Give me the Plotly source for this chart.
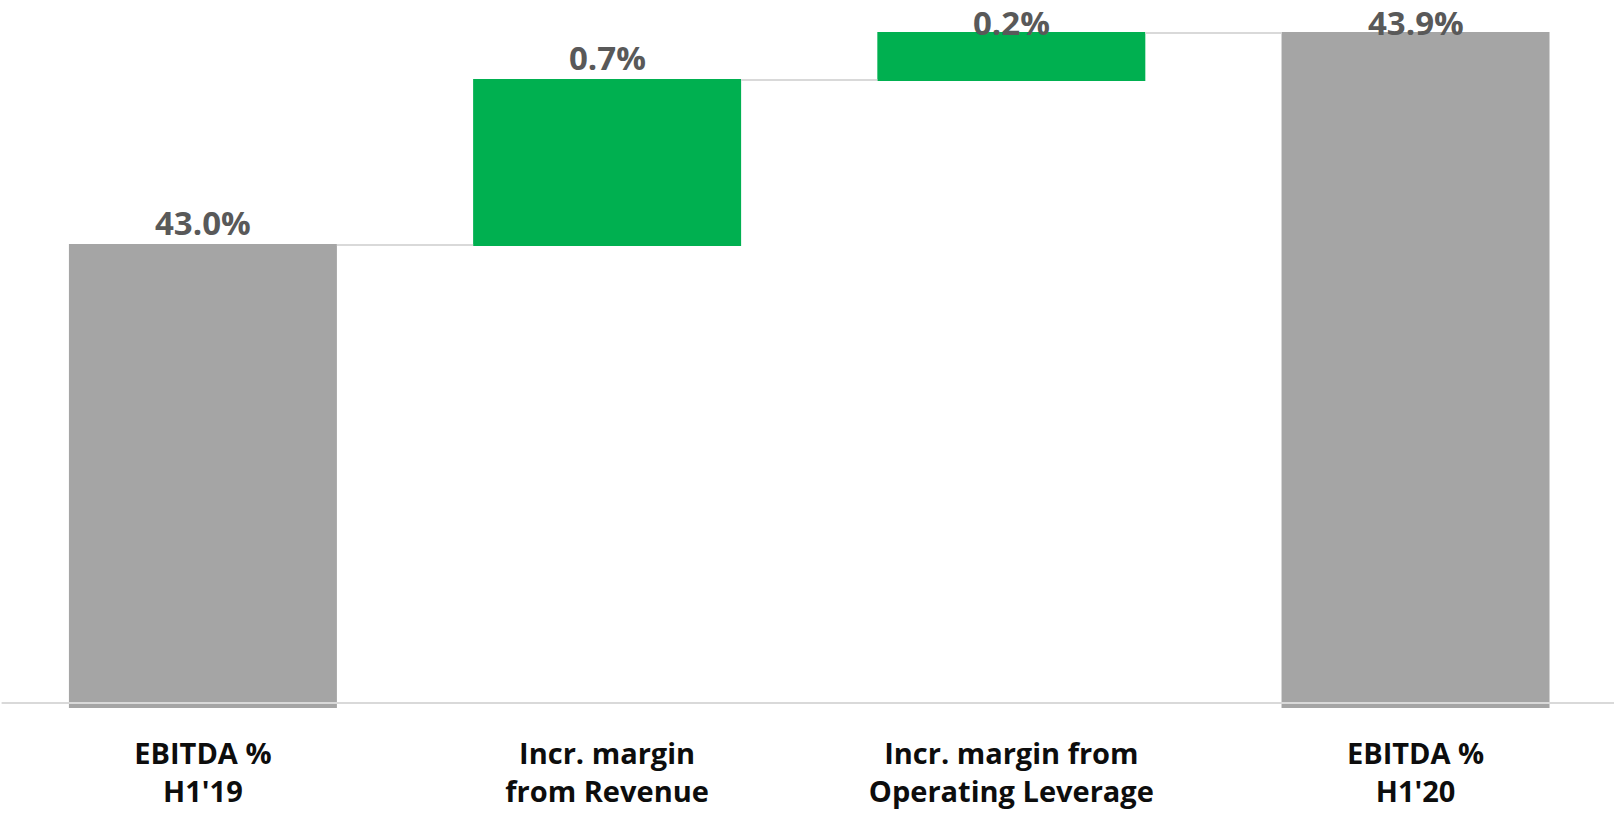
import plotly.graph_objects as go

# EBITDA margin bridge, H1'19 -> H1'20 (values in %)
categories = ["EBITDA %<br>H1'19", "Incr. margin<br>from Revenue",
              "Incr. margin from<br>Operating Leverage", "EBITDA %<br>H1'20"]
values = [43.0, 0.7, 0.2, 43.9]
measures = ["absolute", "relative", "relative", "total"]
value_labels = ["43.0%", "0.7%", "0.2%", "43.9%"]

GREY = "#a5a5a5"
GREEN = "#00b050"
LABEL_GREY = "#595959"

x_pos = list(range(len(categories)))

fig = go.Figure(go.Waterfall(
    x=x_pos,
    y=values,
    measure=measures,
    totals=dict(marker=dict(color=GREY)),
    increasing=dict(marker=dict(color=GREEN)),
    decreasing=dict(marker=dict(color="#ff0000")),
    connector=dict(line=dict(color="#d9d9d9", width=2), mode="between"),
    textposition="none",
    hoverinfo="skip",
))

# bar tops, used to place the value labels
tops = []
running = 0.0
for m, v in zip(measures, values):
    if m == "absolute":
        running = v
    elif m == "relative":
        running += v
    tops.append(v if m == "total" else running)

offsets = [23, 23, 10, 10]
for i, (t, lab) in enumerate(zip(tops, value_labels)):
    fig.add_annotation(
        x=i, y=t, text=lab, showarrow=False, yanchor="middle", yshift=offsets[i],
        font=dict(family="Open Sans", size=33, color=LABEL_GREY, weight="bold"),
    )

# baseline drawn over the bars
fig.add_shape(type="line", xref="paper", yref="paper", x0=0.001, x1=1,
              y0=5 / 708, y1=5 / 708, line=dict(color="#d9d9d9", width=2),
              layer="above")

fig.update_layout(
    width=1614, height=815,
    margin=dict(l=0, r=0, t=0, b=107),
    paper_bgcolor="white", plot_bgcolor="white",
    waterfallgap=0.337,
    showlegend=False,
    xaxis=dict(
        tickmode="array", tickvals=x_pos, ticktext=categories,
        range=[-0.502, 3.491], showgrid=False, zeroline=False, showline=False,
        ticks="", ticklabelstandoff=26,
        tickfont=dict(family="Open Sans", size=29, color="#0d0d0d", weight="bold"),
    ),
    yaxis=dict(range=[41.035, 44.04], visible=False, showgrid=False, zeroline=False),
)

fig.write_html("out.html")
